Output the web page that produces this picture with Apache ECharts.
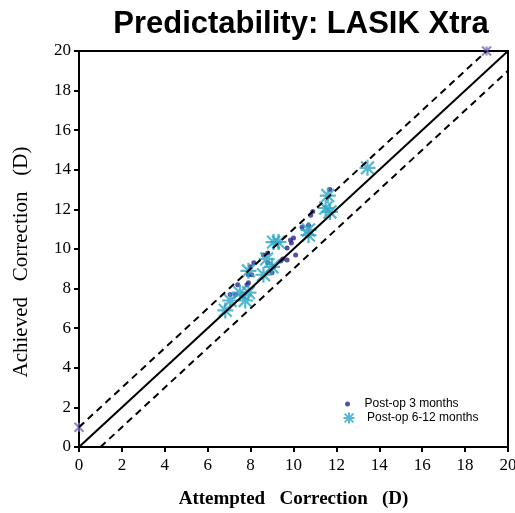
<!DOCTYPE html>
<html>
<head>
<meta charset="utf-8">
<script src="https://cdn.jsdelivr.net/npm/echarts@6/dist/echarts.min.js"></script>
<style>
  html, body { margin: 0; padding: 0; background: #fff; }
  #chart { width: 515px; height: 513px; }
</style>
</head>
<body>
<div id="chart"></div>
<script>
// attempted vs achieved correction (D)
var postOp3 = [
  [7.05, 7.7], [7.3, 7.7], [7.4, 8.2], [7.83, 8.2], [7.9, 8.3], [7.9, 8.7],
  [8.05, 8.7], [8.0, 9.1], [8.15, 9.3], [8.8, 9.3], [8.6, 9.7], [8.8, 9.8],
  [9.0, 8.8], [9.07, 9.1], [9.4, 9.4], [9.5, 9.5], [9.7, 9.44], [10.1, 9.7],
  [9.7, 10.05], [9.9, 10.3], [9.86, 10.45], [10.0, 10.55], [10.4, 11.1],
  [10.7, 11.2], [10.8, 11.7], [10.9, 11.9], [11.7, 13.0]
];
var postOp612 = [
  [6.82, 6.9], [7.05, 7.4], [7.5, 7.8], [7.75, 7.4], [7.9, 7.8], [7.9, 8.9],
  [8.6, 8.7], [8.75, 9.5], [9.0, 9.1], [9.07, 10.35], [9.3, 10.35], [10.7, 10.96],
  [10.7, 10.7], [11.5, 12.07], [11.6, 12.7], [11.7, 11.87], [13.45, 14.1]
];
var edgePoints = [[0, 1], [19, 20]];
var identityLine = [[0, 0], [20, 20]];
var upperLimit = [[0, 1], [19, 20]];
var lowerLimit = [[1, 0], [20, 19]];
var axisTicks = [0, 20, 2];

var starPath = 'path://M0,-10L0,10M-8,-8L8,8M-8,8L8,-8M-10,0L10,0';
var serif = '"Liberation Serif", "Times New Roman", serif';
var sans = '"Liberation Sans", Arial, sans-serif';

var chart = echarts.init(document.getElementById('chart'));
chart.setOption({
  animation: false,
  title: {
    text: 'Predictability: LASIK Xtra',
    left: 296,
    textAlign: 'center',
    top: 4,
    textStyle: { fontFamily: sans, fontWeight: 'bold', fontSize: 31, color: '#000' }
  },
  grid: {
    left: 79, right: 7, top: 51, bottom: 66, outerBoundsMode: 'none',
    show: true, borderColor: '#000', borderWidth: 2
  },
  legend: [
    {
      data: ['Post-op 3 months'],
      left: 340, top: 393, itemWidth: 24, itemHeight: 5,
      textStyle: { fontFamily: sans, fontSize: 12, color: '#000' }
    },
    {
      data: ['Post-op 6-12 months'],
      left: 336, top: 405, itemWidth: 26, itemHeight: 11,
      textStyle: { fontFamily: sans, fontSize: 12, color: '#000' }
    }
  ],
  xAxis: {
    type: 'value', min: axisTicks[0], max: axisTicks[1], interval: axisTicks[2],
    name: 'Attempted   Correction   (D)', nameLocation: 'middle', nameGap: 43,
    nameTextStyle: { fontFamily: serif, fontWeight: 'bold', fontSize: 19, color: '#000' },
    axisLine: { lineStyle: { color: '#000', width: 2 } },
    axisTick: { length: 5, lineStyle: { color: '#000', width: 2 } },
    axisLabel: { fontFamily: serif, fontSize: 17, color: '#000', margin: 10 },
    splitLine: { show: false }
  },
  yAxis: {
    type: 'value', min: axisTicks[0], max: axisTicks[1], interval: axisTicks[2],
    name: 'Achieved   Correction   (D)', nameLocation: 'middle', nameGap: 47,
    nameTextStyle: { fontFamily: serif, fontSize: 21, color: '#000', padding: [0, 26, 0, 0] },
    axisLine: { lineStyle: { color: '#000', width: 2 } },
    axisTick: { length: 5, lineStyle: { color: '#000', width: 2 } },
    axisLabel: { fontFamily: serif, fontSize: 17, color: '#000', margin: 8 },
    splitLine: { show: false }
  },
  series: [
    {
      type: 'line', data: identityLine, showSymbol: false, silent: true,
      lineStyle: { color: '#000', width: 2 }
    },
    {
      type: 'line', data: upperLimit, showSymbol: false, silent: true,
      lineStyle: { color: '#000', width: 2, type: [7, 5] }
    },
    {
      type: 'line', data: lowerLimit, showSymbol: false, silent: true,
      lineStyle: { color: '#000', width: 2, type: [7, 5] }
    },
    {
      name: 'Post-op 3 months', type: 'scatter', data: postOp3,
      symbol: 'circle', symbolSize: 5,
      itemStyle: { color: '#29248c' }
    },
    {
      name: 'Post-op 6-12 months', type: 'scatter', data: postOp612,
      symbol: starPath, symbolSize: 16,
      itemStyle: { color: 'none', borderColor: '#2aa6c4', borderWidth: 2.2 }
    },
    {
      type: 'scatter', data: edgePoints,
      symbol: 'path://M-5,-5L5,5M-5,5L5,-5M0,-5L0,5', symbolSize: 9,
      itemStyle: { color: 'none', borderColor: '#7a64c0', borderWidth: 2 }
    }
  ]
});
</script>
</body>
</html>
